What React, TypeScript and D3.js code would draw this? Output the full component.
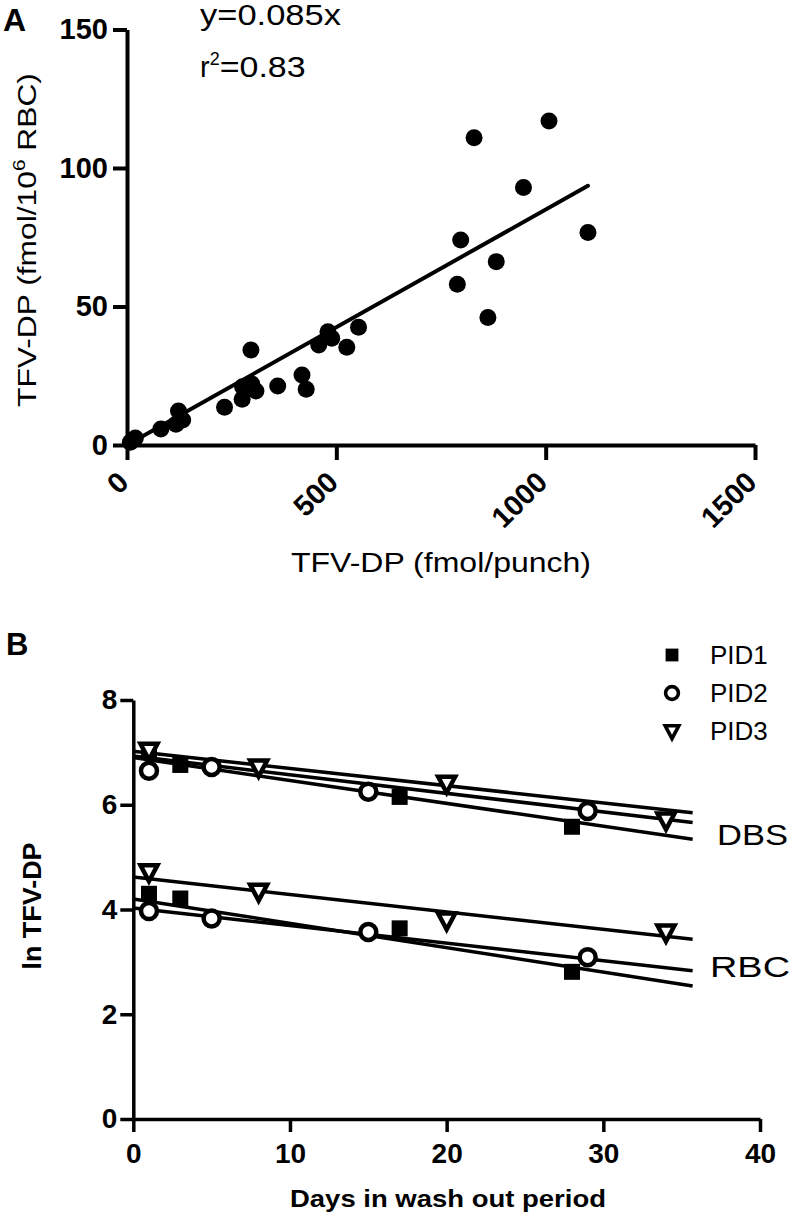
import React, { useEffect, useRef } from "react";
import * as d3 from "d3";

// Panel A: TFV-DP per punch (x) vs per 10^6 RBC (y)
const punchValues = [8, 20, 81, 117, 123, 133, 233, 275, 276, 296, 298, 308, 360, 418, 428, 458, 480, 489, 525, 553, 789, 797, 829, 862, 882, 947, 1008, 1101];
const rbcPerMillion = [1, 2.5, 5.8, 7.5, 12.3, 9, 13.6, 16.5, 21, 34.3, 22, 19.5, 21.3, 25.3, 20.1, 36.1, 40.9, 38.5, 35.3, 42.5, 58.0, 74.0, 110.9, 46.0, 66.2, 93.0, 117, 76.7];
const fitSlopeA = 0.085;
const fitTextA = "y=0.085x";
const r2TextA = "=0.83";
const xTicksA = [0, 500, 1000, 1500];
const yTicksA = [0, 50, 100, 150];

// Panel B: ln TFV-DP over the wash out period
const pidNames = ["PID1", "PID2", "PID3"];
const pidDays = [
	[1, 3, 17, 28],
	[1, 5, 15, 29],
	[1, 8, 20, 34],
];
const dbsValues = [
	[7.04, 6.76, 6.15, 5.58],
	[6.65, 6.72, 6.25, 5.88],
	[7.04, 6.72, 6.41, 5.71],
];
const rbcValues = [
	[4.3, 4.21, 3.64, 2.81],
	[3.97, 3.83, 3.57, 3.09],
	[4.72, 4.35, 3.8, 3.57],
];
const dbsIntercepts = [6.9, 6.93, 7.02];
const dbsSlopes = [-0.0437, -0.0356, -0.0328];
const rbcIntercepts = [4.2, 4.03, 4.62];
const rbcSlopes = [-0.0465, -0.0336, -0.0333];
const fitEndDay = 35.7;
const xTicksB = [0, 10, 20, 30, 40];
const yTicksB = [0, 2, 4, 6, 8];

const FONT = "'Liberation Sans', Arial, Helvetica, sans-serif";

const App: React.FC = () => {
	const svgRef = useRef<SVGSVGElement>(null);

	useEffect(() => {
		if (!svgRef.current) return;
		const svg = d3.select(svgRef.current);
		svg.selectAll("*").remove();
		svg.attr("font-family", FONT);

		// ---------- Panel A ----------
		const xA = d3.scaleLinear().domain([0, 1500]).range([127, 755]);
		const yA = d3.scaleLinear().domain([0, 150]).range([445, 29.5]);

		const gA = svg.append("g");

		gA.append("text")
			.attr("x", 3)
			.attr("y", 31)
			.attr("font-size", 32)
			.attr("font-weight", "bold")
			.text("A");

		const xAxisA = gA
			.append("g")
			.attr("transform", `translate(0,${yA(0)})`)
			.call(
				d3.axisBottom(xA).tickValues(xTicksA).tickFormat(d3.format("d")).tickSize(15).tickSizeOuter(0)
			);
		xAxisA
			.selectAll("text")
			.attr("text-anchor", "end")
			.attr("y", 0)
			.attr("dy", 0)
			.attr("transform", "translate(3,39) rotate(-45)");

		const yAxisA = gA
			.append("g")
			.attr("transform", `translate(${xA(0)},0)`)
			.call(d3.axisLeft(yA).tickValues(yTicksA).tickSize(14).tickPadding(5).tickSizeOuter(0));

		[xAxisA, yAxisA].forEach((ax) => {
			ax.selectAll("path, line").attr("stroke", "#000").attr("stroke-width", 4);
			ax.selectAll("text")
				.attr("font-family", FONT)
				.attr("font-size", 29)
				.attr("font-weight", "bold")
				.attr("fill", "#000");
		});

		// regression line through origin
		const xMax = d3.max(punchValues) || 0;
		gA.append("line")
			.attr("x1", xA(0))
			.attr("y1", yA(0))
			.attr("x2", xA(xMax))
			.attr("y2", yA(fitSlopeA * xMax))
			.attr("stroke", "#000")
			.attr("stroke-width", 4)
			.attr("stroke-linecap", "round");

		gA.append("g")
			.selectAll("circle")
			.data(punchValues)
			.join("circle")
			.attr("cx", (d) => xA(d))
			.attr("cy", (d, i) => yA(rbcPerMillion[i]))
			.attr("r", 8.5)
			.attr("fill", "#000");

		gA.append("text")
			.attr("x", 200)
			.attr("y", 25)
			.attr("font-size", 29)
			.attr("textLength", 141)
			.attr("lengthAdjust", "spacingAndGlyphs")
			.text(fitTextA);

		const r2 = gA.append("text").attr("x", 200).attr("y", 77).attr("font-size", 29);
		r2.append("tspan").text("r");
		r2.append("tspan").attr("font-size", 18).attr("dy", -12).text("2");
		r2.append("tspan").attr("dy", 12).attr("textLength", 86).attr("lengthAdjust", "spacingAndGlyphs").text(r2TextA);

		const yLabA = gA
			.append("text")
			.attr("transform", "translate(36,240) rotate(-90)")
			.attr("text-anchor", "middle")
			.attr("font-size", 26);
		yLabA.append("tspan").text("TFV-DP (fmol/10");
		yLabA.append("tspan").attr("font-size", 17).attr("dy", -11).text("6");
		yLabA.append("tspan").attr("dy", 11).text(" RBC)");
		const yLabNode = yLabA.node() as SVGTextElement;
		if (yLabNode) {
			const w = yLabNode.getComputedTextLength();
			const s = 334 / w;
			yLabA.attr("transform", `translate(36,240) rotate(-90) scale(${s},1)`);
		}

		gA.append("text")
			.attr("x", 441)
			.attr("y", 572)
			.attr("text-anchor", "middle")
			.attr("font-size", 27)
			.attr("textLength", 300)
			.attr("lengthAdjust", "spacingAndGlyphs")
			.text("TFV-DP (fmol/punch)");

		// ---------- Panel B ----------
		const xB = d3.scaleLinear().domain([0, 40]).range([133.3, 760]);
		const yB = d3.scaleLinear().domain([0, 8]).range([1119, 700]);

		const gB = svg.append("g");

		gB.append("text")
			.attr("x", 6)
			.attr("y", 655)
			.attr("font-size", 31)
			.attr("font-weight", "bold")
			.text("B");

		const xAxisB = gB
			.append("g")
			.attr("transform", `translate(0,${yB(0)})`)
			.call(d3.axisBottom(xB).tickValues(xTicksB).tickSize(13).tickPadding(11).tickSizeOuter(0));
		const yAxisB = gB
			.append("g")
			.attr("transform", `translate(${xB(0)},0)`)
			.call(d3.axisLeft(yB).tickValues(yTicksB).tickSize(13).tickPadding(3).tickSizeOuter(0));

		[xAxisB, yAxisB].forEach((ax) => {
			ax.selectAll("path, line").attr("stroke", "#000").attr("stroke-width", 3.5);
			ax.selectAll("text")
				.attr("font-family", FONT)
				.attr("font-size", 28)
				.attr("font-weight", "bold")
				.attr("fill", "#000");
		});

		// fitted lines
		const fitLines = [
			...dbsIntercepts.map((b, i) => ({ b, m: dbsSlopes[i] })),
			...rbcIntercepts.map((b, i) => ({ b, m: rbcSlopes[i] })),
		];
		gB.append("g")
			.selectAll("line")
			.data(fitLines)
			.join("line")
			.attr("x1", xB(0))
			.attr("y1", (d) => yB(d.b))
			.attr("x2", xB(fitEndDay))
			.attr("y2", (d) => yB(d.b + d.m * fitEndDay))
			.attr("stroke", "#000")
			.attr("stroke-width", 3.5);

		const drawMarker = (
			g: d3.Selection<SVGGElement, unknown, null, undefined>,
			kind: number,
			cx: number,
			cy: number,
			scale: number
		) => {
			if (kind === 0) {
				const s = 16 * scale;
				g.append("rect")
					.attr("x", cx - s / 2)
					.attr("y", cy - s / 2)
					.attr("width", s)
					.attr("height", s)
					.attr("fill", "#000");
			} else if (kind === 1) {
				g.append("circle")
					.attr("cx", cx)
					.attr("cy", cy)
					.attr("r", 8 * scale)
					.attr("fill", "#fff")
					.attr("stroke", "#000")
					.attr("stroke-width", 4.5 * scale);
			} else {
				const w = 8.5 * scale;
				const h1 = 6.5 * scale;
				const h2 = 9.5 * scale;
				g.append("path")
					.attr("d", `M${cx - w},${cy - h1}L${cx + w},${cy - h1}L${cx},${cy + h2}Z`)
					.attr("fill", "#fff")
					.attr("stroke", "#000")
					.attr("stroke-width", 4.5 * scale)
					.attr("stroke-linejoin", "miter");
			}
		};

		const marks = gB.append("g");
		[dbsValues, rbcValues].forEach((set) => {
			set.forEach((vals, k) => {
				vals.forEach((v, j) => {
					drawMarker(marks as any, k, xB(pidDays[k][j]), yB(v), 1);
				});
			});
		});

		// legend
		const legend = gB.append("g");
		pidNames.forEach((name, k) => {
			const cy = 655 + k * 38;
			drawMarker(legend as any, k, 672, cy, 0.8);
			legend
				.append("text")
				.attr("x", 710)
				.attr("y", cy + 9)
				.attr("font-size", 26)
				.text(name);
		});

		gB.append("text")
			.attr("x", 717)
			.attr("y", 845)
			.attr("font-size", 30)
			.attr("textLength", 71)
			.attr("lengthAdjust", "spacingAndGlyphs")
			.text("DBS");
		gB.append("text")
			.attr("x", 710)
			.attr("y", 977)
			.attr("font-size", 30)
			.attr("textLength", 80)
			.attr("lengthAdjust", "spacingAndGlyphs")
			.text("RBC");

		gB.append("text")
			.attr("transform", "translate(41,906) rotate(-90)")
			.attr("text-anchor", "middle")
			.attr("font-size", 26)
			.attr("font-weight", "bold")
			.attr("textLength", 127)
			.attr("lengthAdjust", "spacingAndGlyphs")
			.text("ln TFV-DP");

		gB.append("text")
			.attr("x", 448)
			.attr("y", 1207)
			.attr("text-anchor", "middle")
			.attr("font-size", 24)
			.attr("font-weight", "bold")
			.attr("textLength", 316)
			.attr("lengthAdjust", "spacingAndGlyphs")
			.text("Days in wash out period");
	}, []);

	return (
		<svg
			ref={svgRef}
			width={792}
			height={1215}
			style={{ position: "absolute", left: 0, top: 0, background: "#fff" }}
		/>
	);
};

export default App;
